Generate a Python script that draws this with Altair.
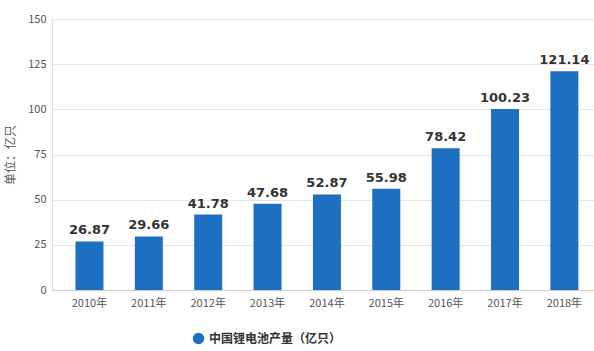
import altair as alt
import pandas as pd

years = ["2010年", "2011年", "2012年", "2013年", "2014年", "2015年", "2016年", "2017年", "2018年"]
values = [26.87, 29.66, 41.78, 47.68, 52.87, 55.98, 78.42, 100.23, 121.14]
series = "中国锂电池产量（亿只）"
y_ticks = [0, 25, 50, 75, 100, 125, 150]

df = pd.DataFrame({"year": years, "value": values, "series": [series] * len(years)})
df["label"] = [f"{v:.2f}" for v in values]

FONT = "Noto Sans CJK SC"
BLUE = "#1c6fc1"

x = alt.X("year:N", sort=years, title=None,
          scale=alt.Scale(paddingInner=0.53, paddingOuter=0.33, align=0.6),
          axis=alt.Axis(labelAngle=0, labelFont=FONT, labelFontSize=11, labelColor="#555555",
                        labelPadding=7, domainColor="#cccccc", tickColor="#cccccc",
                        ticks=False, grid=False))
y = alt.Y("value:Q", title="单位：亿只",
          scale=alt.Scale(domain=[0, 150], nice=False),
          axis=alt.Axis(values=y_ticks, labelFont=FONT, labelFontSize=11, labelColor="#555555",
                        titleFont=FONT, titleFontSize=12, titleColor="#555555", titleFontWeight="normal",
                        titlePadding=10, domain=False, ticks=False, gridColor="#e6e6e6",
                        labelPadding=6))

bars = alt.Chart(df).mark_bar(size=28).encode(
    x=x, y=y,
    color=alt.Color("series:N", scale=alt.Scale(domain=[series], range=[BLUE]),
                    legend=alt.Legend(title=None, orient="none", legendX=140, legendY=313,
                                      symbolType="circle", symbolSize=130, labelFont=FONT,
                                      labelFontSize=12, labelFontWeight="bold", labelColor="#333333")),
)

text = alt.Chart(df).mark_text(dy=-4, baseline="bottom", font="DejaVu Sans", fontSize=13,
                               fontWeight="bold", color="#333333").encode(
    x=alt.X("year:N", sort=years), y="value:Q", text="label:N")

chart = alt.layer(bars, text).properties(
    width=542, height=271,
    padding={"left": 52, "top": 19, "right": 0, "bottom": 61},
    autosize=alt.AutoSizeParams(type="none"),
).configure_view(stroke=None).configure(background="white")

chart.save("out.html", embed_options={"renderer": "svg", "actions": False})
